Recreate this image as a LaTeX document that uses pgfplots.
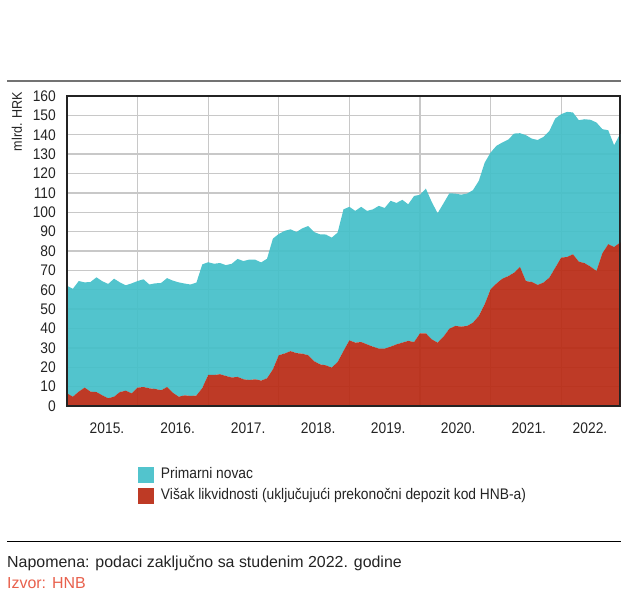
\documentclass[border=0pt]{standalone}
\usepackage{pgfplots}
\pgfplotsset{compat=1.18}
\usepackage{pgfplotstable}
\usepgfplotslibrary{fillbetween}
\usepackage{fontspec}
\setmainfont{Liberation Sans}
\newfontfamily\condf{Liberation Sans}[FakeStretch=0.9]
\definecolor{cyanc}{RGB}{69,192,201}
\definecolor{redc}{RGB}{185,43,21}
\definecolor{cyanl}{RGB}{82,196,205}
\definecolor{redl}{RGB}{190,58,37}
\definecolor{srcc}{RGB}{232,96,76}
\definecolor{txt}{RGB}{35,35,35}
\definecolor{gridc}{RGB}{200,200,200}

\pgfplotstableread{
i p r
0 62 6.5
1 60.5 4.8
2 64.5 7.4
3 63.8 9.5
4 64 7.4
5 66.4 7.2
6 64.4 5.5
7 63 4.0
8 65.7 4.8
9 63.8 7.2
10 62.3 7.9
11 63.3 6.5
12 64.5 9.5
13 65.4 9.8
14 62.7 9.1
15 63.3 8.8
16 63.5 8.1
17 66 9.8
18 64.7 6.8
19 63.8 4.8
20 63.2 5.5
21 62.7 5.2
22 63.7 5.4
23 73.1 9.3
24 74.2 16
25 73.4 16
26 73.8 16.4
27 72.7 15.5
28 73.4 14.7
29 75.9 15
30 74.8 13.8
31 75.6 13.4
32 75.5 13.8
33 74.1 13.1
34 76 14.3
35 86.4 18.9
36 88.8 26.2
37 90.4 27.1
38 91.2 28.3
39 89.8 27.3
40 91.7 27
41 92.9 26.2
42 89.8 23.1
43 88.6 21.5
44 88.5 21
45 86.9 19.8
46 89.5 22.7
47 101.5 28.4
48 102.8 33.9
49 100.7 32.7
50 102.8 33
51 100.7 31.8
52 101.5 30.6
53 103.3 29.6
54 102.2 29.6
55 105.9 30.6
56 104.8 31.8
57 106.4 32.7
58 104.1 33.6
59 108.4 33
60 109 37.5
61 112.2 37.5
62 105.3 34.4
63 99.5 32.7
64 104.6 35.8
65 109.8 39.9
66 109.6 41.3
67 109.1 41
68 109.6 41.3
69 111.4 43
70 116.2 46.5
71 125.6 52.5
72 130.8 60.2
73 134.3 63.2
74 136 65.7
75 137.5 67
76 140.6 68.8
77 140.8 71.8
78 139.8 64.5
79 138 64
80 137.3 62.5
81 138.9 63.7
82 142 66.3
83 148.4 71.4
84 150.6 76.6
85 151.8 76.9
86 151.5 78.3
87 147.5 74.5
88 148 73.7
89 147.7 71.9
90 146.3 69.7
91 142.9 78.8
92 142.3 83.5
93 134.6 82.1
94 140.3 84.3
}\data

\newcommand\tickfont{\condf\fontsize{15.4}{18}\selectfont}

\begin{document}
\begin{tikzpicture}
\draw[line width=1.5bp, black!55] (7bp,513bp) -- (621bp,513bp);
\begin{axis}[
  at={(67bp,188bp)}, anchor=south west,
  scale only axis, width=553bp, height=310bp,
  xmin=0, xmax=94, ymin=0, ymax=160,
  ytick={0,10,...,160},
  xtick={6.8,18.8,30.8,42.7,54.6,66.5,78.5,88.9},
  xticklabels={2015.,2016.,2017.,2018.,2019.,2020.,2021.,2022.},
  minor xtick={12,24,36,48,60,72,84},
  xminorgrids=true, ymajorgrids=true, xmajorgrids=false,
  major tick length=0pt, minor tick length=0pt,
  major grid style={gridc, line width=1.3bp},
  minor grid style={gridc, line width=1.1bp},
  axis line style={txt, line width=1.2bp},
  /pgf/number format/assume math mode=true,
  ticklabel style={font=\tickfont, text=txt, inner sep=0pt},
  yticklabel shift=11bp,
  xticklabel shift=17bp,
  legend style={at={(0.128,-0.196)}, anchor=north west, draw=none, fill=none,
    inner sep=0pt, row sep=5bp, column sep=7bp, font=\tickfont, text=txt,
    nodes={inner sep=0pt, anchor=west, text height=11bp, text depth=3bp}},
  legend cell align=left,
  legend image code/.code={\fill[#1] (0bp,-8bp) rectangle (16bp,8bp);},
]
\addplot[draw=none, name path=P, forget plot] table[x=i,y=p]{\data};
\addplot[draw=none, name path=R, forget plot] table[x=i,y=r]{\data};
\addplot[draw=none, name path=B, forget plot] coordinates {(0,0) (94,0)};
\addplot[fill=cyanc, fill opacity=0.93, draw=none, forget plot] fill between[of=P and R];
\addplot[fill=redc, fill opacity=0.93, draw=none, forget plot] fill between[of=R and B];
\draw[txt, line width=1.2bp] (rel axis cs:0,0) rectangle (rel axis cs:1,1);
\addlegendimage{fill=cyanl, draw=none}
\addlegendentry{Primarni novac}
\addlegendimage{fill=redl, draw=none}
\addlegendentry{Višak likvidnosti (uključujući prekonočni depozit kod HNB-a)}
\end{axis}
\node[rotate=90, anchor=east, inner sep=0pt, font=\condf\fontsize{14}{16}\selectfont, text=txt] at (17bp,502bp) {mlrd. HRK};
\draw[line width=1bp, black] (7bp,52bp) -- (621bp,52bp);
\node[anchor=west, inner sep=0pt, font=\fontsize{16}{18}\selectfont, text=txt] at (7bp,31bp) {Napomena: podaci zaključno sa studenim 2022. godine};
\node[anchor=west, inner sep=0pt, font=\fontsize{16}{18}\selectfont, text=srcc] at (7bp,11bp) {Izvor: HNB};
\pgfresetboundingbox
\path[use as bounding box] (0bp,0bp) rectangle (625bp,594bp);
\end{tikzpicture}
\end{document}
